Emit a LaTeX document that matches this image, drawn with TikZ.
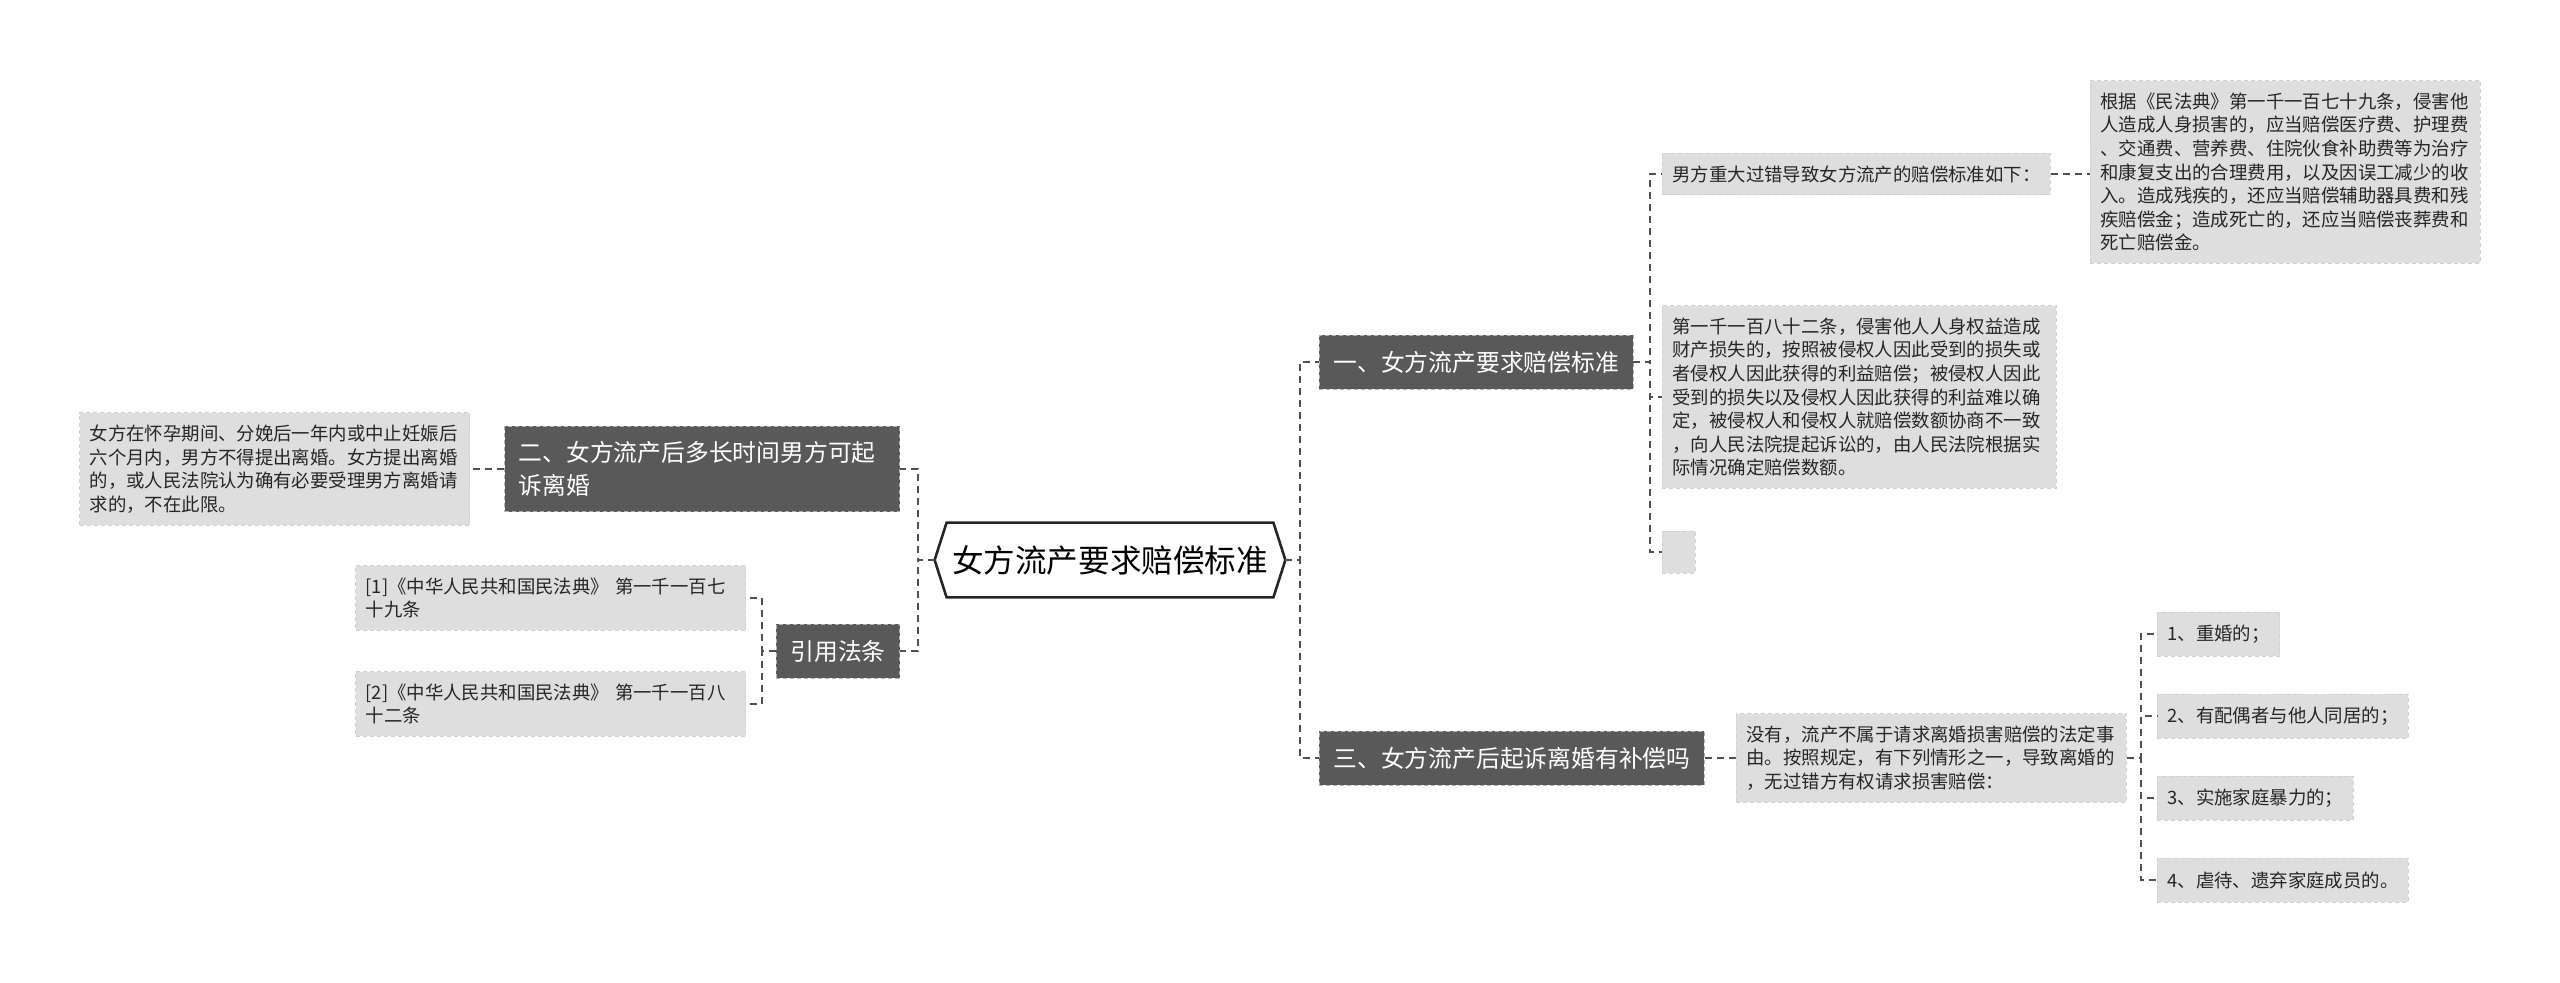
\documentclass[tikz,border=0pt]{standalone}
\usepackage{fontspec}
\setmainfont{Noto Sans CJK SC}
\usepackage{tikz}
\usetikzlibrary{calc}
\definecolor{topicgray}{RGB}{89,89,89}
\definecolor{leafgray}{RGB}{222,222,222}
\definecolor{linkgray}{RGB}{80,80,80}
\newcommand\rootfont{\fontsize{15.8}{19}\selectfont}
\newcommand\topicfont{\fontsize{11.9}{16.5}\selectfont}
\newcommand\leaffont{\fontsize{9.2}{11.8}\selectfont}

\begin{document}
\begin{tikzpicture}[x=.5pt,y=-.5pt,
  topic/.style={fill=topicgray,draw=black!30,dash pattern=on 2pt off 1.5pt,text=white,font=\topicfont,align=left,inner xsep=7pt,inner ysep=7.5pt,minimum height=27pt},
  leaf/.style={fill=leafgray,draw=black!18,dash pattern=on 2pt off 1.5pt,text=black!85,font=\leaffont,align=left,inner xsep=5pt,inner ysep=6pt},
  para/.style={leaf,text width=185pt},
  link/.style={draw=linkgray,dash pattern=on 3.5pt off 2.5pt,line width=1pt}]
\useasboundingbox (0,0) rectangle (2560,983);
\fill[white] (0,0) rectangle (2560,983);

\node[minimum width=163pt,minimum height=37pt,inner sep=0pt,font=\rootfont] (root) at (1110,560) {女方流产要求赔偿标准};
\coordinate (rootL) at ([xshift=-6pt]root.west);
\coordinate (rootR) at ([xshift=6pt]root.east);
\draw[line width=1.3pt,black!85] (root.north west) -- (rootL) -- (root.south west) -- (root.south east) -- (rootR) -- (root.north east) -- cycle;

\node[topic,anchor=west] (b1) at (1319,362) {一、女方流产要求赔偿标准};
\node[topic,anchor=east,text width=183.5pt] (b2) at (900,469) {二、女方流产后多长时间男方可起\\诉离婚};
\node[topic,anchor=west] (b3) at (1319,758) {三、女方流产后起诉离婚有补偿吗};
\node[topic,anchor=east] (b4) at (900,651) {引用法条};

\node[para,anchor=east] (l2) at (470,469) {女方在怀孕期间、分娩后一年内或中止妊娠后\\六个月内，男方不得提出离婚。女方提出离婚\\的，或人民法院认为确有必要受理男方离婚请\\求的，不在此限。};
\node[para,anchor=east] (r1) at (746,598) {[1]《中华人民共和国民法典》 第一千一百七\\十九条};
\node[para,anchor=east] (r2) at (746,704) {[2]《中华人民共和国民法典》 第一千一百八\\十二条};

\node[leaf,anchor=west] (l1a) at (1662,174) {男方重大过错导致女方流产的赔偿标准如下：};
\node[para,anchor=west] (l1x) at (2090,172) {根据《民法典》第一千一百七十九条，侵害他\\人造成人身损害的，应当赔偿医疗费、护理费\\、交通费、营养费、住院伙食补助费等为治疗\\和康复支出的合理费用，以及因误工减少的收\\入。造成残疾的，还应当赔偿辅助器具费和残\\疾赔偿金；造成死亡的，还应当赔偿丧葬费和\\死亡赔偿金。};
\node[para,anchor=west,text width=187pt] (l1b) at (1662,397) {第一千一百八十二条，侵害他人人身权益造成\\财产损失的，按照被侵权人因此受到的损失或\\者侵权人因此获得的利益赔偿；被侵权人因此\\受到的损失以及侵权人因此获得的利益难以确\\定，被侵权人和侵权人就赔偿数额协商不一致\\，向人民法院提起诉讼的，由人民法院根据实\\际情况确定赔偿数额。};
\node[leaf,anchor=west,minimum width=16.5pt,minimum height=21pt] (l1c) at (1662,552) {};

\node[para,anchor=west] (l3) at (1736,758) {没有，流产不属于请求离婚损害赔偿的法定事\\由。按照规定，有下列情形之一，导致离婚的\\，无过错方有权请求损害赔偿：};
\node[leaf,anchor=west,minimum height=22pt] (i1) at (2157,634) {1、重婚的；};
\node[leaf,anchor=west,minimum height=22pt] (i2) at (2157,716) {2、有配偶者与他人同居的；};
\node[leaf,anchor=west,minimum height=22pt] (i3) at (2157,798) {3、实施家庭暴力的；};
\node[leaf,anchor=west,minimum height=22pt] (i4) at (2157,880) {4、虐待、遗弃家庭成员的。};

\draw[link] (rootR) -- ++(15,0) |- (b1.west);
\draw[link] (rootR) -- ++(15,0) |- (b3.west);
\draw[link] (rootL) -- ++(-17,0) |- (b2.east);
\draw[link] (rootL) -- ++(-17,0) |- (b4.east);
\draw[link] (b2.west) -- (l2.east);
\draw[link] (b4.west) -- ++(-14,0) |- (r1.east);
\draw[link] (b4.west) -- ++(-14,0) |- (r2.east);
\foreach \n in {l1a,l1b,l1c}
  \draw[link] (b1.east) -- ++(17,0) |- (\n.west);
\draw[link] (l1a.east) -- (l1a.east -| l1x.west);
\draw[link] (b3.east) -- (l3.west);
\foreach \n in {i1,i2,i3,i4}
  \draw[link] (l3.east) -- ++(14,0) |- (\n.west);
\end{tikzpicture}
\end{document}
